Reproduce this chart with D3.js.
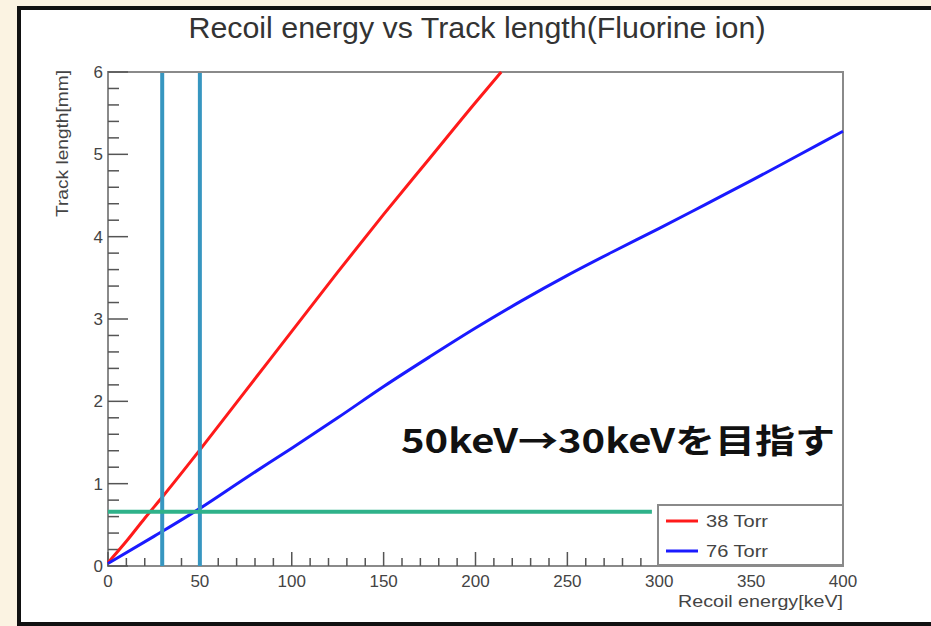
<!DOCTYPE html>
<html>
<head>
<meta charset="utf-8">
<script src="https://cdn.jsdelivr.net/npm/d3@7"></script>
<style>
  body { margin: 0; background: #fbf3e2; }
  svg { display: block; }
</style>
</head>
<body>
<div id="chart"></div>
<script>
// Recoil energy [keV] vs track length [mm]
const energy38 = [0, 10, 20, 30, 50, 75, 100, 125, 150, 175, 200, 214];
const track38 = [0.04, 0.3, 0.58, 0.85, 1.41, 2.13, 2.85, 3.57, 4.27, 4.95, 5.63, 6.0];

const energy76 = [0, 25, 50, 75, 100, 125, 150, 175, 200, 225, 250, 275, 300, 325, 350, 375, 400];
const track76 = [0.03, 0.36, 0.7, 1.07, 1.43, 1.8, 2.18, 2.54, 2.89, 3.22, 3.53, 3.82, 4.1, 4.39, 4.68, 4.98, 5.28];

const seriesNames = ["38 Torr", "76 Torr"];
const seriesColors = ["#ff1a1a", "#1a1aff"];

// guide lines drawn on top of the plot
const markerEnergies = [29.5, 50];
const targetTrack = 0.66;
const targetEnergyEnd = 296;

const xTicks = [0, 50, 100, 150, 200, 250, 300, 350, 400];
const yTicks = [0, 1, 2, 3, 4, 5, 6];

const width = 931;
const height = 626;

const svg = d3.select("#chart")
  .append("svg")
  .attr("width", width)
  .attr("height", height);

// white panel with black border
svg.append("rect")
  .attr("x", 19)
  .attr("y", 8)
  .attr("width", width + 10)
  .attr("height", 616)
  .attr("fill", "#ffffff")
  .attr("stroke", "#111")
  .attr("stroke-width", 4);

const x = d3.scaleLinear().domain([0, 400]).range([108, 843]);
const y = d3.scaleLinear().domain([0, 6]).range([566, 72]);

const rootFont = "'Liberation Sans', Arial, sans-serif";

// title
svg.append("text")
  .attr("x", 477)
  .attr("y", 38)
  .attr("text-anchor", "middle")
  .attr("textLength", 577)
  .attr("lengthAdjust", "spacingAndGlyphs")
  .style("font-family", rootFont)
  .style("font-size", "29px")
  .style("fill", "#333")
  .text("Recoil energy vs Track length(Fluorine ion)");

// frame
svg.append("rect")
  .attr("x", x(0))
  .attr("y", y(6))
  .attr("width", x(400) - x(0))
  .attr("height", y(0) - y(6))
  .attr("fill", "none")
  .attr("stroke", "#8a8a8a")
  .attr("stroke-width", 2);

const tickColor = "#555";
const labelStyle = (sel) => sel
  .style("font-family", rootFont)
  .style("font-size", "17px")
  .style("fill", "#444");

// x axis ticks (major every 50, minor every 10)
const xMinor = d3.range(0, 401, 10);
svg.append("g").selectAll("line")
  .data(xMinor)
  .join("line")
  .attr("x1", d => x(d))
  .attr("x2", d => x(d))
  .attr("y1", y(0))
  .attr("y2", d => y(0) - (d % 50 === 0 ? 14 : 8))
  .attr("stroke", tickColor)
  .attr("stroke-width", 1.5);

svg.append("g").selectAll("text")
  .data(xTicks)
  .join("text")
  .attr("x", d => x(d))
  .attr("y", 587)
  .attr("text-anchor", "middle")
  .call(labelStyle)
  .text(d => d);

// y axis ticks (major every 1, minor every 0.2)
const yMinor = d3.range(0, 31).map(i => i / 5);
svg.append("g").selectAll("line")
  .data(yMinor)
  .join("line")
  .attr("x1", x(0))
  .attr("x2", (d, i) => x(0) + (i % 5 === 0 ? 20 : 11))
  .attr("y1", d => y(d))
  .attr("y2", d => y(d))
  .attr("stroke", tickColor)
  .attr("stroke-width", 1.5);

svg.append("g").selectAll("text")
  .data(yTicks)
  .join("text")
  .attr("x", 103)
  .attr("y", d => y(d) + 6)
  .attr("text-anchor", "end")
  .call(labelStyle)
  .text(d => d);

// axis titles
svg.append("text")
  .attr("x", 843)
  .attr("y", 607)
  .attr("text-anchor", "end")
  .attr("textLength", 165)
  .attr("lengthAdjust", "spacingAndGlyphs")
  .call(labelStyle)
  .text("Recoil energy[keV]");

svg.append("text")
  .attr("transform", "translate(68,70) rotate(-90)")
  .attr("text-anchor", "end")
  .attr("textLength", 147)
  .attr("lengthAdjust", "spacingAndGlyphs")
  .call(labelStyle)
  .style("font-size", "16px")
  .text("Track length[mm]");

// curves
const line = d3.line()
  .x(d => x(d[0]))
  .y(d => y(d[1]))
  .curve(d3.curveMonotoneX);

const curves = [
  d3.zip(energy38, track38),
  d3.zip(energy76, track76)
];

svg.append("g").selectAll("path")
  .data(curves)
  .join("path")
  .attr("d", line)
  .attr("fill", "none")
  .attr("stroke", (d, i) => seriesColors[i])
  .attr("stroke-width", 3);

// vertical markers
svg.append("g").selectAll("line")
  .data(markerEnergies)
  .join("line")
  .attr("x1", d => x(d))
  .attr("x2", d => x(d))
  .attr("y1", y(6) + 1)
  .attr("y2", y(0))
  .attr("stroke", "#3796c0")
  .attr("stroke-width", 4);

// horizontal target line
svg.append("line")
  .attr("x1", x(0))
  .attr("x2", x(targetEnergyEnd))
  .attr("y1", y(targetTrack))
  .attr("y2", y(targetTrack))
  .attr("stroke", "#2fb28a")
  .attr("stroke-width", 4);

// legend
const legend = svg.append("g").attr("transform", "translate(658,505)");
legend.append("rect")
  .attr("width", 185)
  .attr("height", 60)
  .attr("fill", "#fff")
  .attr("stroke", "#8a8a8a")
  .attr("stroke-width", 2);

const legendItem = legend.selectAll("g")
  .data(seriesNames)
  .join("g")
  .attr("transform", (d, i) => `translate(0,${16 + i * 30})`);

legendItem.append("line")
  .attr("x1", 8)
  .attr("x2", 40)
  .attr("stroke", (d, i) => seriesColors[i])
  .attr("stroke-width", 3);

legendItem.append("text")
  .attr("x", 48)
  .attr("y", 6)
  .attr("textLength", 62)
  .attr("lengthAdjust", "spacingAndGlyphs")
  .call(labelStyle)
  .text(d => d);

// annotation
svg.append("text")
  .attr("x", 401)
  .attr("y", 453)
  .attr("textLength", 434)
  .attr("lengthAdjust", "spacingAndGlyphs")
  .style("font-family", "'Noto Sans CJK JP', sans-serif")
  .style("font-weight", "bold")
  .style("font-size", "33px")
  .style("fill", "#111")
  .text("50keV→30keVを目指す");
</script>
</body>
</html>
